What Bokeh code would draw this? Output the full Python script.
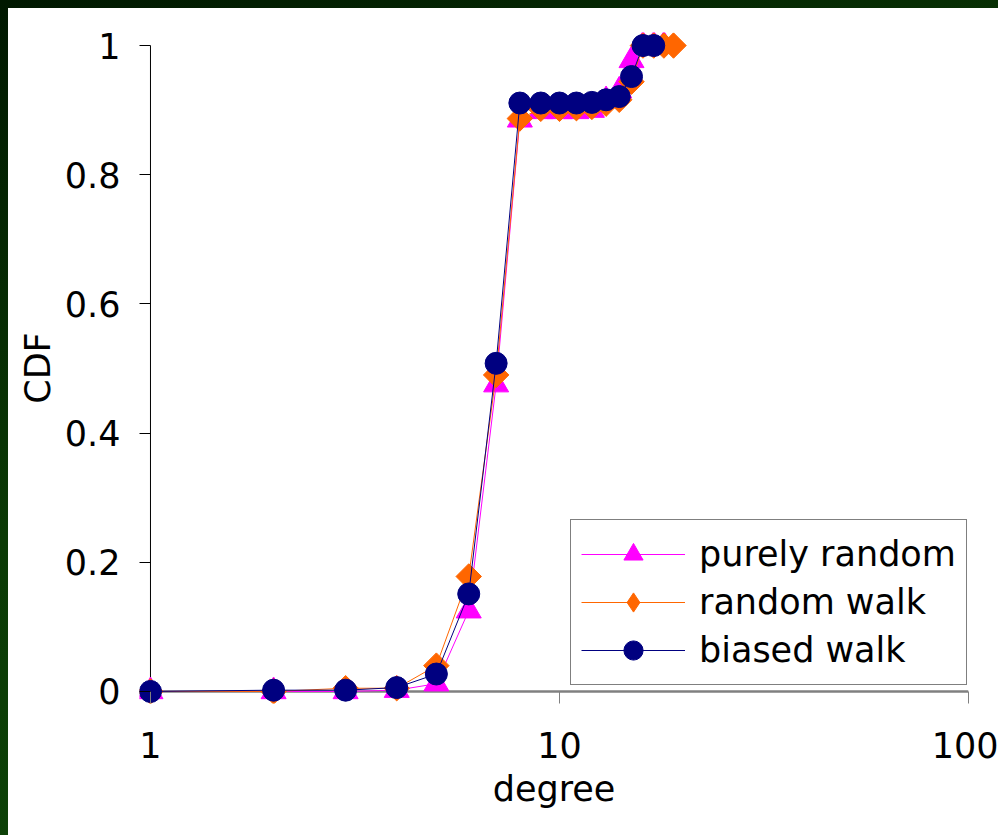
from bokeh.plotting import figure
from bokeh.models import FixedTicker, Legend, LegendItem
from bokeh.embed import file_html
from bokeh.resources import INLINE

# ---- data ----
pr_degree = [1, 2, 3, 4, 5, 6, 7, 8, 9, 10, 11, 12, 13, 14, 15, 16, 17, 18]
pr_cdf = [0.0, 0.0, 0.0, 0.002, 0.012, 0.125, 0.475, 0.885, 0.898, 0.898,
          0.898, 0.9, 0.915, 0.93, 0.977, 1.0, 1.0, 1.0]

rw_degree = [1, 2, 3, 4, 5, 6, 7, 8, 9, 10, 11, 12, 13, 14, 15, 16, 17, 18, 19]
rw_cdf = [0.0, 0.0, 0.005, 0.005, 0.04, 0.178, 0.49, 0.887, 0.902, 0.902,
          0.903, 0.905, 0.91, 0.916, 0.944, 1.0, 1.0, 1.0, 1.0]

bw_degree = [1, 2, 3, 4, 5, 6, 7, 8, 9, 10, 11, 12, 13, 14, 15, 16, 17]
bw_cdf = [0.0, 0.002, 0.002, 0.006, 0.027, 0.151, 0.508, 0.911, 0.911, 0.911,
          0.911, 0.912, 0.916, 0.921, 0.952, 1.0, 1.0]

series_labels = ["purely random", "random walk", "biased walk"]
x_ticks = [1, 10, 100]
x_tick_labels = ["1", "10", "100"]
y_ticks = [0, 0.2, 0.4, 0.6, 0.8, 1]
y_tick_labels = ["0", "0.2", "0.4", "0.6", "0.8", "1"]

FONT = "DejaVu Sans"
FS = "35px"

p = figure(width=990, height=827, x_axis_type="log",
           x_range=(10 ** (-11 / 410), 100), y_range=(-12 / 644, 1 + 13 / 644),
           output_backend="svg", toolbar_location=None,
           min_border_left=131, min_border_right=30,
           min_border_top=24, min_border_bottom=132)
p.background_fill_color = "white"
p.border_fill_color = "white"
p.outline_line_color = None
p.xgrid.visible = False
p.ygrid.visible = False

# axis lines (drawn beneath the series)
p.segment(x0=[x_ticks[0]], y0=[y_ticks[0]], x1=[x_ticks[-1]], y1=[y_ticks[0]],
          line_color="#808080", line_width=2.5)
p.segment(x0=[x_ticks[0]], y0=[y_ticks[0]], x1=[x_ticks[0]], y1=[y_ticks[-1]],
          line_color="black", line_width=1)

# series
l1 = p.line(pr_degree, pr_cdf, line_color="#FF00FF", line_width=1)
s1 = p.scatter(pr_degree, pr_cdf, marker="triangle", size=25,
               fill_color="#FF00FF", line_color="#FF00FF")
l2 = p.line(rw_degree, rw_cdf, line_color="#FF6600", line_width=1)
s2 = p.scatter(rw_degree, rw_cdf, marker="square", angle=0.785398, size=18,
               fill_color="#FF6600", line_color="#FF6600")
# legend-only diamond (the legend does not rotate markers)
s2_key = p.scatter(rw_degree, rw_cdf, marker="diamond", size=26,
                   fill_color="#FF6600", line_color="#FF6600", visible=False)
l3 = p.line(bw_degree, bw_cdf, line_color="#000080", line_width=1)
s3 = p.scatter(bw_degree, bw_cdf, marker="circle", size=22,
               fill_color="#000080", line_color="#000080")

# x axis
xa = p.xaxis[0]
xa.ticker = FixedTicker(ticks=x_ticks, minor_ticks=[])
xa.major_label_overrides = {t: s for t, s in zip(x_ticks, x_tick_labels)}
xa.axis_line_color = None
xa.major_tick_in = 12
xa.major_tick_out = 0
xa.major_tick_line_color = "#808080"
xa.major_tick_line_width = 1
xa.minor_tick_line_color = None
xa.major_label_standoff = 28
xa.major_label_text_font = FONT
xa.major_label_text_font_size = FS
xa.major_label_text_color = "black"
xa.axis_label = "degree"
xa.axis_label_text_font = FONT
xa.axis_label_text_font_size = FS
xa.axis_label_text_font_style = "normal"
xa.axis_label_text_color = "black"
xa.axis_label_standoff = 8

# y axis
ya = p.yaxis[0]
ya.ticker = FixedTicker(ticks=y_ticks, minor_ticks=[])
ya.major_label_overrides = {t: s for t, s in zip(y_ticks, y_tick_labels)}
ya.axis_line_color = None
ya.major_tick_in = 11
ya.major_tick_out = 0
ya.major_tick_line_color = "black"
ya.major_tick_line_width = 1
ya.minor_tick_line_color = None
ya.major_label_standoff = 19
ya.major_label_text_font = FONT
ya.major_label_text_font_size = FS
ya.major_label_text_color = "black"
ya.axis_label = "CDF"
ya.axis_label_text_font = FONT
ya.axis_label_text_font_size = FS
ya.axis_label_text_font_style = "normal"
ya.axis_label_text_color = "black"
ya.axis_label_standoff = 4

legend = Legend(items=[
    LegendItem(label=series_labels[0], renderers=[l1, s1]),
    LegendItem(label=series_labels[1], renderers=[l2, s2_key]),
    LegendItem(label=series_labels[2], renderers=[l3, s3]),
], location=(431, 18))
legend.label_text_font = FONT
legend.label_text_font_size = FS
legend.label_text_color = "black"
legend.glyph_width = 104
legend.glyph_height = 48
legend.label_height = 48
legend.label_standoff = 14
legend.spacing = 0
legend.padding = 10
legend.margin = 0
legend.border_line_color = "black"
legend.border_line_width = 1
legend.background_fill_color = "white"
legend.background_fill_alpha = 1
p.add_layout(legend)

css = ("<style>html{margin:0;padding:0;overflow:hidden;"
       "background:linear-gradient(160deg,#001800 0%,#0b3a05 45%,#0f4a0a 100%) !important;}"
       "body{margin:8px 0 0 8px !important;padding:0 !important;overflow:hidden;"
       "background:#ffffff !important;}</style>")
html = file_html(p, INLINE)
html = html.replace("</head>", css + "</head>", 1)
open("out.html", "w").write(html)
